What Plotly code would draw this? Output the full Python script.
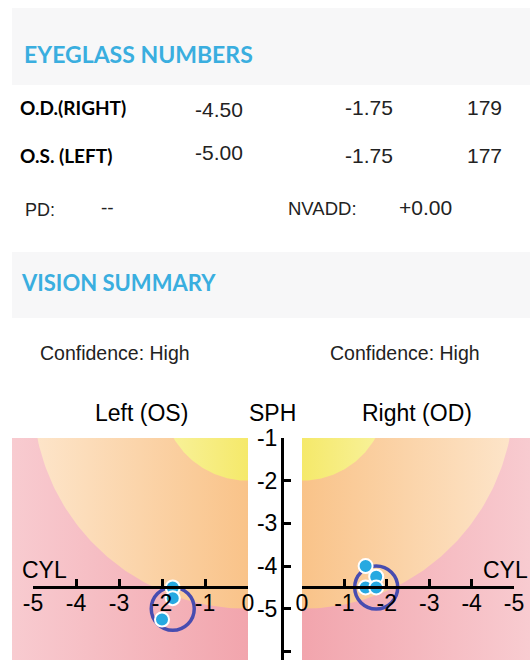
import numpy as np
import plotly.graph_objects as go

# ---------------- data ----------------
row_labels = ["O.D.(RIGHT)", "O.S. (LEFT)"]
rx_sph = [-4.50, -5.00]          # OD, OS
rx_cyl = [-1.75, -1.75]
rx_axis = [179, 177]
pd_value = "--"
nvadd_value = 0.00
confidence = ["High", "High"]    # left, right

os_cyl = [-1.75, -1.75, -2.00]
os_sph = [-4.50, -4.75, -5.25]
od_cyl = [-1.50, -1.75, -1.50, -1.75]
od_sph = [-4.00, -4.25, -4.50, -4.50]

cyl_ticks = [0, -1, -2, -3, -4, -5]
sph_ticks = [-1, -2, -3, -4, -5, -6]
zone_radii = [5, 2]              # orange zone, yellow zone
cyl_axis_level = -4.5

# ---------------- geometry helpers (pixels -> paper) ----------------
W, H = 530, 660
def px(x):
    return x / W
def py(y):
    return 1 - y / H

TOP = 438           # pixel top of chart panels
SY = 42.7           # px per SPH unit
SXL, SXR = 43.0, 42.4
L0, L1 = 12, 248    # left panel pixel extent (0 at L1)
R0, R1 = 302, 530   # right panel pixel extent (0 at R0)
ybot = -1 - (H - TOP) / SY
yrange = [ybot, -1]
xl_min = -(L1 - L0) / SXL
xr_min = -(R1 - R0) / SXR
axis_y_px = TOP + (-1 - cyl_axis_level) * SY

FONT = "Liberation Sans, Arial, sans-serif"
HFONT = "Lato, Open Sans, sans-serif"
BLUE_TXT = "#3aaedf"

pink = ["#f8cbd0", "#f2a5ad"]
orange = ["#fde5ca", "#f9c389"]
yellow = ["#f8f29e", "#f5e96a"]
zone_cols = [orange, yellow]

fig = go.Figure()

theta = np.linspace(0, 2 * np.pi, 361)

def add_panel(xa, ya, xmin):
    fig.add_trace(go.Scatter(
        x=[xmin, 0, 0, xmin, xmin], y=[ybot, ybot, -1, -1, ybot],
        mode="lines", line=dict(width=0), fill="toself",
        fillgradient=dict(type="horizontal", colorscale=[[0, pink[0]], [1, pink[1]]],
                          start=xmin, stop=0),
        hoverinfo="skip", showlegend=False, xaxis=xa, yaxis=ya))
    for r, cols in zip(zone_radii, zone_cols):
        fig.add_trace(go.Scatter(
            x=r * np.cos(theta), y=r * np.sin(theta),
            mode="lines", line=dict(width=0), fill="toself",
            fillgradient=dict(type="horizontal", colorscale=[[0, cols[0]], [1, cols[1]]],
                              start=-r, stop=0),
            hoverinfo="skip", showlegend=False, xaxis=xa, yaxis=ya))

add_panel("x", "y", xl_min)
add_panel("x2", "y2", xr_min)

ring = dict(symbol="circle-open", size=43, color="#474cb0", line=dict(width=3.5, color="#474cb0"))
pts = dict(size=14, color="#27a9e1", line=dict(width=2, color="white"))

# left eye (OS)
fig.add_trace(go.Scatter(x=[rx_cyl[1]], y=[rx_sph[1]], mode="markers", marker=ring,
                         showlegend=False, hoverinfo="skip", xaxis="x", yaxis="y", cliponaxis=False))
fig.add_trace(go.Scatter(x=os_cyl, y=os_sph, mode="markers", marker=pts,
                         showlegend=False, xaxis="x", yaxis="y", cliponaxis=False))
# right eye (OD)
fig.add_trace(go.Scatter(x=[rx_cyl[0]], y=[rx_sph[0]], mode="markers", marker=ring,
                         showlegend=False, hoverinfo="skip", xaxis="x2", yaxis="y2", cliponaxis=False))
fig.add_trace(go.Scatter(x=od_cyl, y=od_sph, mode="markers", marker=pts,
                         showlegend=False, xaxis="x2", yaxis="y2", cliponaxis=False))

# invisible traces to create the CYL / SPH axis subplots
fig.add_trace(go.Scatter(x=[None], y=[None], xaxis="x3", yaxis="y", showlegend=False, hoverinfo="skip"))
fig.add_trace(go.Scatter(x=[None], y=[None], xaxis="x4", yaxis="y2", showlegend=False, hoverinfo="skip"))
fig.add_trace(go.Scatter(x=[None], y=[None], xaxis="x", yaxis="y3", showlegend=False, hoverinfo="skip"))

hidden = dict(visible=False, showgrid=False, zeroline=False, fixedrange=True, automargin=False)
tickfont = dict(family=FONT, size=23, color="black")
axis_common = dict(showline=True, linewidth=3, linecolor="black", ticks="inside",
                   ticklen=7, tickwidth=2.5, tickcolor="black", tickfont=tickfont,
                   showgrid=False, zeroline=False, fixedrange=True, automargin=False)

fig.update_layout(
    width=W, height=H, margin=dict(l=0, r=0, t=0, b=0, pad=0, autoexpand=False),
    paper_bgcolor="white", plot_bgcolor="rgba(0,0,0,0)",
    xaxis=dict(domain=[px(L0), px(L1)], range=[xl_min, 0], anchor="y", **hidden),
    yaxis=dict(domain=[0, py(TOP)], range=yrange, anchor="x", **hidden),
    xaxis2=dict(domain=[px(R0), px(R1)], range=[0, xr_min], anchor="y2", **hidden),
    yaxis2=dict(domain=[0, py(TOP)], range=yrange, anchor="x2", **hidden),
    xaxis3=dict(domain=[px(L1 - 5 * SXL), px(L1)], range=[-5, 0], anchor="free",
                position=py(axis_y_px), tickvals=cyl_ticks, ticktext=[str(v) for v in cyl_ticks],
                side="bottom", ticklabelstandoff=-6, **axis_common),
    xaxis4=dict(domain=[px(R0), px(R0 + 5 * SXR)], range=[0, -5], anchor="free",
                position=py(axis_y_px), tickvals=cyl_ticks, ticktext=[str(v) for v in cyl_ticks],
                side="bottom", ticklabelstandoff=-6, **axis_common),
    yaxis3=dict(domain=[0, py(TOP)], range=yrange, anchor="free", overlaying="y",
                position=px(282), side="left", tickvals=sph_ticks,
                ticktext=[str(v) for v in sph_ticks], ticklabelstandoff=-1, **axis_common),
    showlegend=False,
)

# header bands
for y0, y1 in [(8, 85), (252, 318)]:
    fig.add_shape(type="rect", xref="paper", yref="paper", x0=px(12), x1=1,
                  y0=py(y1), y1=py(y0), fillcolor="#f7f7f8", line=dict(width=0), layer="below")

def text(t, x, y, size, family=FONT, color="black", bold=False, anchor="left"):
    fig.add_annotation(text=f"<b>{t}</b>" if bold else t, x=px(x), y=py(y),
                       xref="paper", yref="paper", xanchor=anchor, yanchor="middle",
                       showarrow=False, font=dict(family=family, size=size, color=color))

text("EYEGLASS NUMBERS", 22, 54, 23, HFONT, BLUE_TXT, True)
row_y = [108, 155]
sph_y = [109, 152]
for i in range(2):
    text(row_labels[i], 18, row_y[i], 19, HFONT, "black", True)
    text(f"{rx_sph[i]:.2f}", 193, sph_y[i], 21, color="#222222")
    text(f"{rx_cyl[i]:.2f}", 343, row_y[i], 21, color="#222222")
    text(f"{rx_axis[i]}", 465, row_y[i], 21, color="#222222")
text("PD:", 23, 210, 18, color="#222222")
text(pd_value, 99, 207, 19, color="#222222")
text("NVADD:", 286, 208, 18.5, color="#222222")
text(f"{nvadd_value:+.2f}", 397, 207, 21, color="#222222")
text("VISION SUMMARY", 19, 283, 22, HFONT, BLUE_TXT, True)
text(f"Confidence: {confidence[0]}", 38, 353, 19.5, color="#222222")
text(f"Confidence: {confidence[1]}", 328, 353, 19.5, color="#222222")

text("Left (OS)", 141, 413, 23, anchor="center")
text("SPH", 272, 413, 23, anchor="center")
text("Right (OD)", 417, 413, 23, anchor="center")

# CYL labels
fig.add_annotation(text="CYL", x=-5.3, y=cyl_axis_level, xref="x", yref="y", xanchor="left",
                   yanchor="bottom", yshift=2, showarrow=False,
                   font=dict(family=FONT, size=23, color="black"))
fig.add_annotation(text="CYL", x=xr_min, y=cyl_axis_level, xref="x2", yref="y2", xanchor="right",
                   yanchor="bottom", yshift=2, showarrow=False,
                   font=dict(family=FONT, size=23, color="black"))

fig.write_html("out.html", config={"displayModeBar": False},
               post_script="document.body.style.margin='0';document.body.style.padding='0';"
                           "document.body.style.overflow='hidden';")
